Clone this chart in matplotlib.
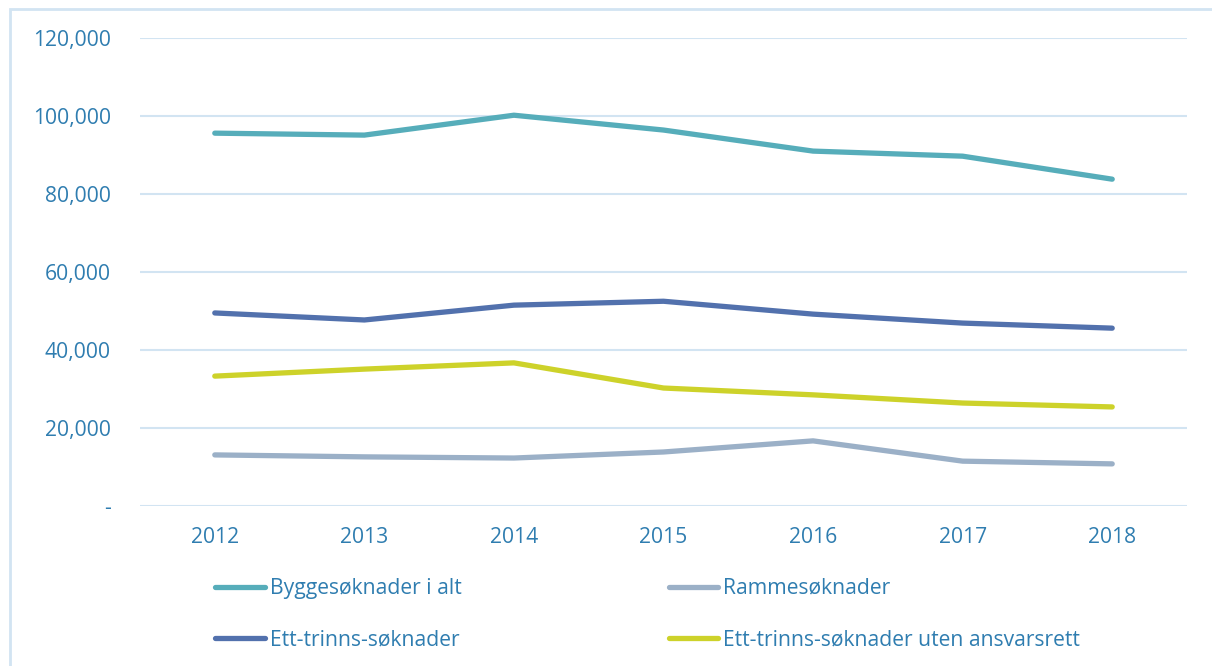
import matplotlib
matplotlib.use("Agg")
import matplotlib.pyplot as plt
from matplotlib.patches import Rectangle
from matplotlib.ticker import FuncFormatter

years = ["2012", "2013", "2014", "2015", "2016", "2017", "2018"]
bygge = [95600, 95100, 100200, 96400, 91000, 89700, 83800]
ramme = [13100, 12600, 12300, 13850, 16700, 11500, 10800]
ett_trinns = [49500, 47700, 51500, 52500, 49200, 46900, 45600]
uten_ansvar = [33300, 35100, 36700, 30250, 28500, 26400, 25400]

labels = ["Byggesøknader i alt", "Ett-trinns-søknader", "Rammesøknader",
          "Ett-trinns-søknader uten ansvarsrett"]

txt = "#2F7DB0"
grid = "#D2E4F2"
fs = 15.2
plt.rcParams['font.family'] = ['Open Sans', 'DejaVu Sans']

W, H = 1212, 666
fig = plt.figure(figsize=(W / 100, H / 100), dpi=100)
fig.patches.append(Rectangle((10 / W, -0.1), 1.2, 1 - 9 / H + 0.1,
                             transform=fig.transFigure, fill=False,
                             edgecolor=grid, linewidth=2))
ax = fig.add_axes([140 / W, 1 - 506 / H, (1187 - 140) / W, (506 - 38) / H])

x = list(range(len(years)))
h1, = ax.plot(x, bygge, color="#56ADBA", lw=3.8, solid_capstyle="round")
h3, = ax.plot(x, ramme, color="#9BB0C7", lw=3.8, solid_capstyle="round")
h2, = ax.plot(x, ett_trinns, color="#5271AD", lw=3.8, solid_capstyle="round")
h4, = ax.plot(x, uten_ansvar, color="#CDD22A", lw=3.8, solid_capstyle="round")

ax.set_xlim(-0.5, len(years) - 0.5)
ax.set_ylim(0, 120000)
ax.set_yticks(range(0, 120001, 20000))
ax.yaxis.set_major_formatter(FuncFormatter(lambda v, p: "-" if v == 0 else f"{int(v):,}"))
ax.set_xticks(x)
ax.set_xticklabels(years)
for s in ax.spines.values():
    s.set_visible(False)
ax.grid(axis="y", color=grid, lw=1.5)
ax.set_axisbelow(True)
ax.tick_params(axis="both", length=0, labelcolor=txt, labelsize=fs)
ax.tick_params(axis="y", pad=21)
ax.tick_params(axis="x", pad=15)

fig.legend([h1, h2, h3, h4], labels, ncol=2, loc="upper left",
           bbox_to_anchor=(196 / W, 1 - 559 / H), frameon=False,
           fontsize=fs, labelcolor=txt, handlelength=2.35, handletextpad=0.25,
           labelspacing=1.45, columnspacing=9.8)

fig.savefig("out.png", dpi=100)
